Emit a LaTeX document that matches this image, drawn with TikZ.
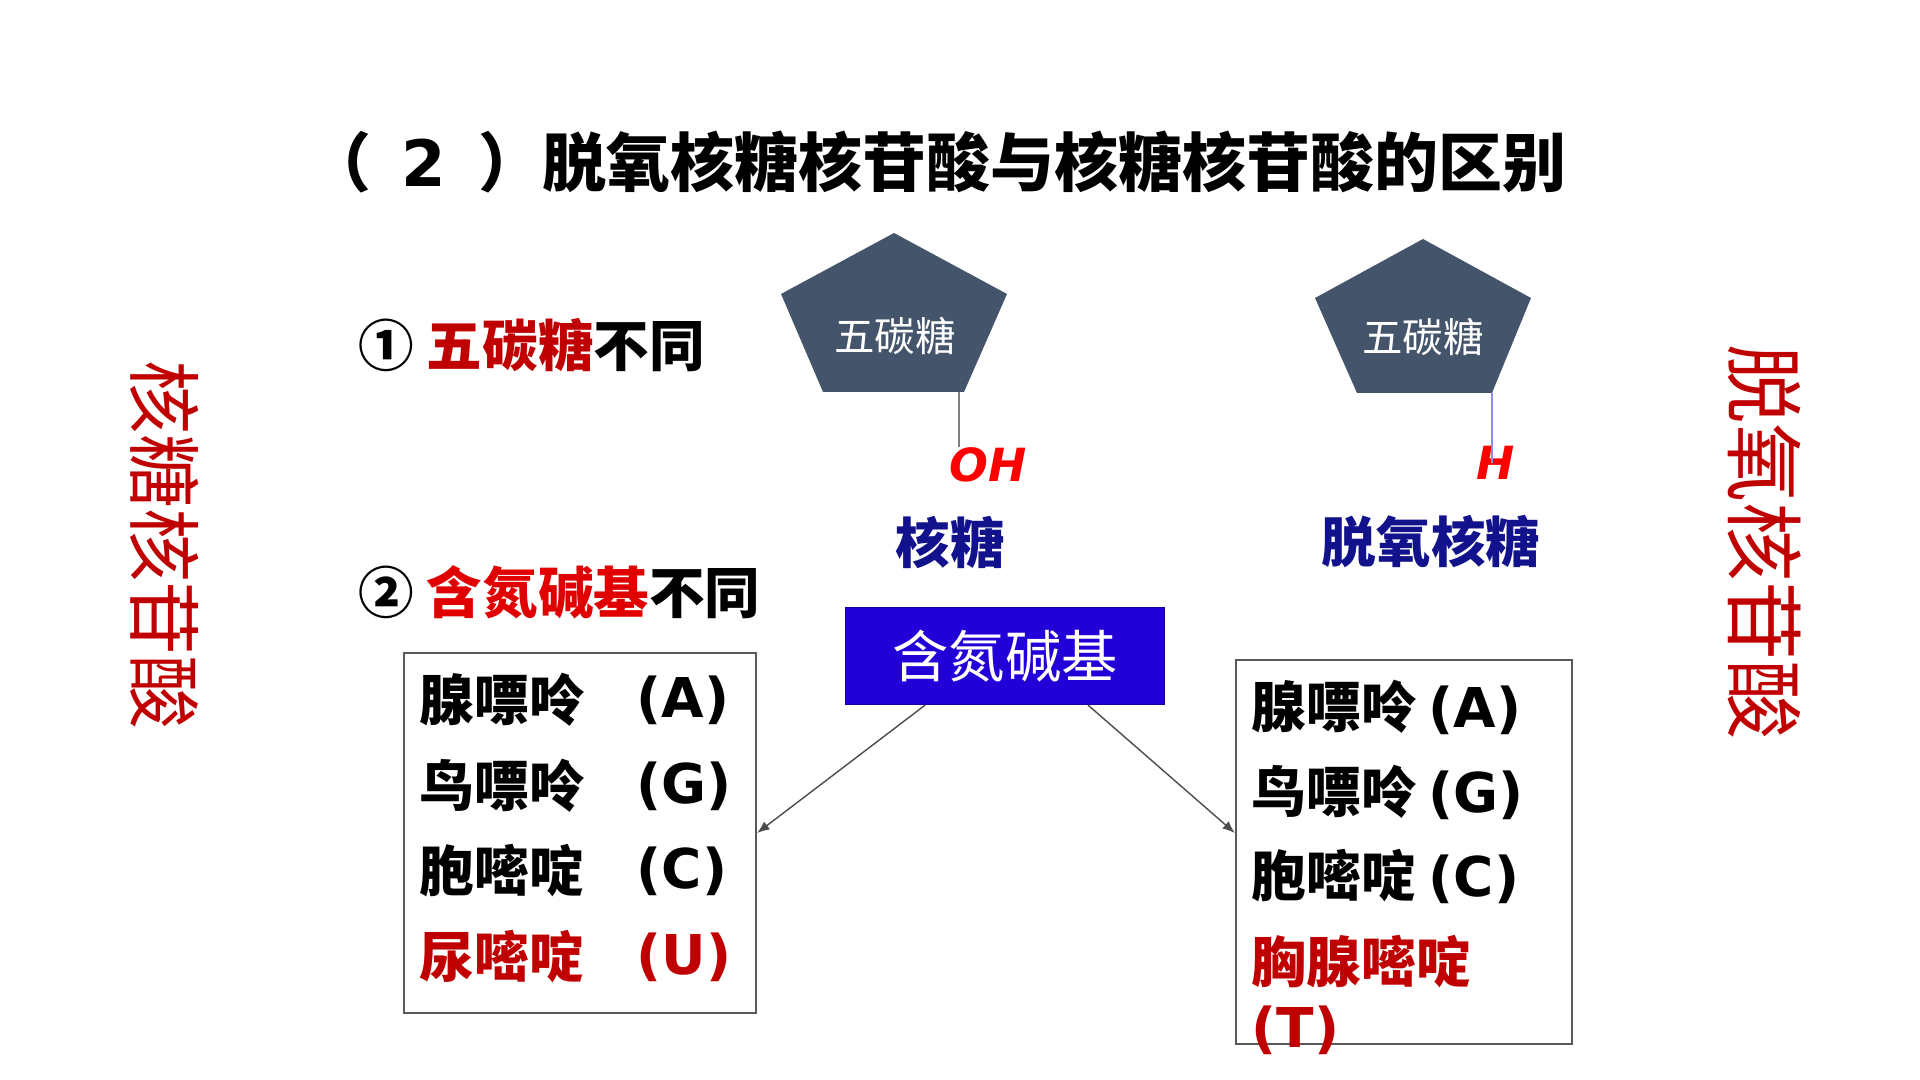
\documentclass[tikz,border=0pt]{standalone}
\usepackage{fontspec}
\setmainfont{DejaVu Sans}
\newfontfamily\cjk{Noto Sans CJK SC}
\newfontfamily\latin{DejaVu Sans}
\usetikzlibrary{arrows.meta,positioning,calc}
\definecolor{slate}{HTML}{44546A}
\definecolor{darkred}{HTML}{C00000}
\definecolor{brightred}{HTML}{E00000}
\definecolor{basefill}{HTML}{2200D8}
\definecolor{navyish}{HTML}{12128C}
\definecolor{bondblue}{HTML}{8C8CF0}
\newcommand{\pxfont}[1]{\fontsize{#1}{#1}\selectfont}

\begin{document}
\begin{tikzpicture}[x=0.01cm,y=-0.01cm,
  heading/.style={inner sep=0pt,font=\cjk\bfseries\pxfont{18.2pt}},
  point/.style={inner sep=0pt,anchor=west,font=\cjk\bfseries\pxfont{15.8pt}},
  sugar/.style={fill=slate,draw=none},
  sugartext/.style={inner sep=0pt,text=white,font=\cjk\pxfont{11.5pt}},
  group/.style={inner sep=0pt,text=red,font=\latin\bfseries\itshape\pxfont{13pt}},
  sugarname/.style={inner sep=0pt,text=navyish,font=\cjk\bfseries\pxfont{15.5pt}},
  basebox/.style={fill=basefill,draw=basefill!70!black,line width=0.3pt,text=white,
    minimum width=3.18cm,minimum height=0.97cm,inner sep=0pt,font=\cjk\pxfont{16pt}},
  listbox/.style={draw=black!65,line width=0.6pt,inner sep=0pt},
  entry/.style={inner sep=0pt,anchor=west,font=\cjk\bfseries\pxfont{15.6pt}},
  letter/.style={inner sep=0pt,anchor=west,font=\latin\bfseries\pxfont{15.6pt}},
  link/.style={draw=black!70,line width=0.4pt,-{Latex[length=3.5pt,width=2.8pt]}},
  sidetext/.style={inner sep=0pt,rotate=-90,text=darkred,font=\cjk\pxfont{#1}}]
  \useasboundingbox (0,0) rectangle (1920,1080);

  % title
  \node[heading,anchor=east] (title) at (1567,162)
    {（\hspace{0.3cm}{\latin 2}\hspace{0.32cm}）脱氧核糖核苷酸与核糖核苷酸的区别};

  % the two differences
  \node[point] (diff1) at (358,345) {① {\color{darkred}五碳糖}不同};
  \node[point] (diff2) at (358,592) {② {\color{brightred}含氮碱基}不同};

  % side captions
  \node[sidetext=21pt] (ribonuc) at (165,545) {核糖核苷酸};
  \node[sidetext=22.5pt] (deoxynuc) at (1765,542) {脱氧核苷酸};

  % pentose rings
  \draw[sugar] (894,233) -- (1007,294) -- (964,392) -- (823,392) -- (781,294) -- cycle;
  \node[sugartext] (lsugar) at (895,336) {五碳糖};
  \draw[sugar] (1423,239) -- (1531,298) -- (1492,393) -- (1357,393) -- (1315,298) -- cycle;
  \node[sugartext] (rsugar) at (1423,337) {五碳糖};

  % 2' groups
  \coordinate (lbond) at (959,392);
  \node[group] (oh) at (988,465) {OH};
  \draw[black!50,line width=0.4pt] (lbond) -- (lbond |- oh.north);
  \coordinate (rbond) at (1492,393);
  \node[group] (h) at (1496,463) {H};
  \draw[bondblue,line width=0.4pt] (rbond) -- (rbond |- h.center);

  \node[sugarname] (ribose) at (950,542) {核糖};
  \node[sugarname] (deoxy) at (1431,542) {脱氧核糖};

  % bases
  \node[basebox] (base) at (1005,656) {含氮碱基};
  \node[listbox,minimum width=3.52cm,minimum height=3.6cm] (ribolist) at (580,833) {};
  \node[listbox,minimum width=3.36cm,minimum height=3.84cm] (deoxylist) at (1404,852) {};

  \node[entry] (ra) at (419,700) {腺嘌呤};
  \node[letter] at (636,700) {(A)};
  \node[entry] (rg) at (419,786) {鸟嘌呤};
  \node[letter] at (636,786) {(G)};
  \node[entry] (rc) at (419,871) {胞嘧啶};
  \node[letter] at (636,871) {(C)};
  \node[entry,text=darkred] (ru) at (419,957) {尿嘧啶};
  \node[letter,text=darkred] at (636,957) {(U)};

  \node[entry] (da) at (1251,707) {腺嘌呤 {\latin (A)}};
  \node[entry] (dg) at (1251,792) {鸟嘌呤 {\latin (G)}};
  \node[entry] (dc) at (1251,877) {胞嘧啶 {\latin (C)}};
  \node[entry,text=darkred] (dt) at (1251,962) {胸腺嘧啶};
  \node[letter,text=darkred] at (1251,1030) {(T)};

  \draw[link] ($(base.south west)!0.25!(base.south east)$) -- (ribolist.east);
  \draw[link] ($(base.south west)!0.76!(base.south east)$) -- (deoxylist.west |- ribolist.east);
\end{tikzpicture}
\end{document}
